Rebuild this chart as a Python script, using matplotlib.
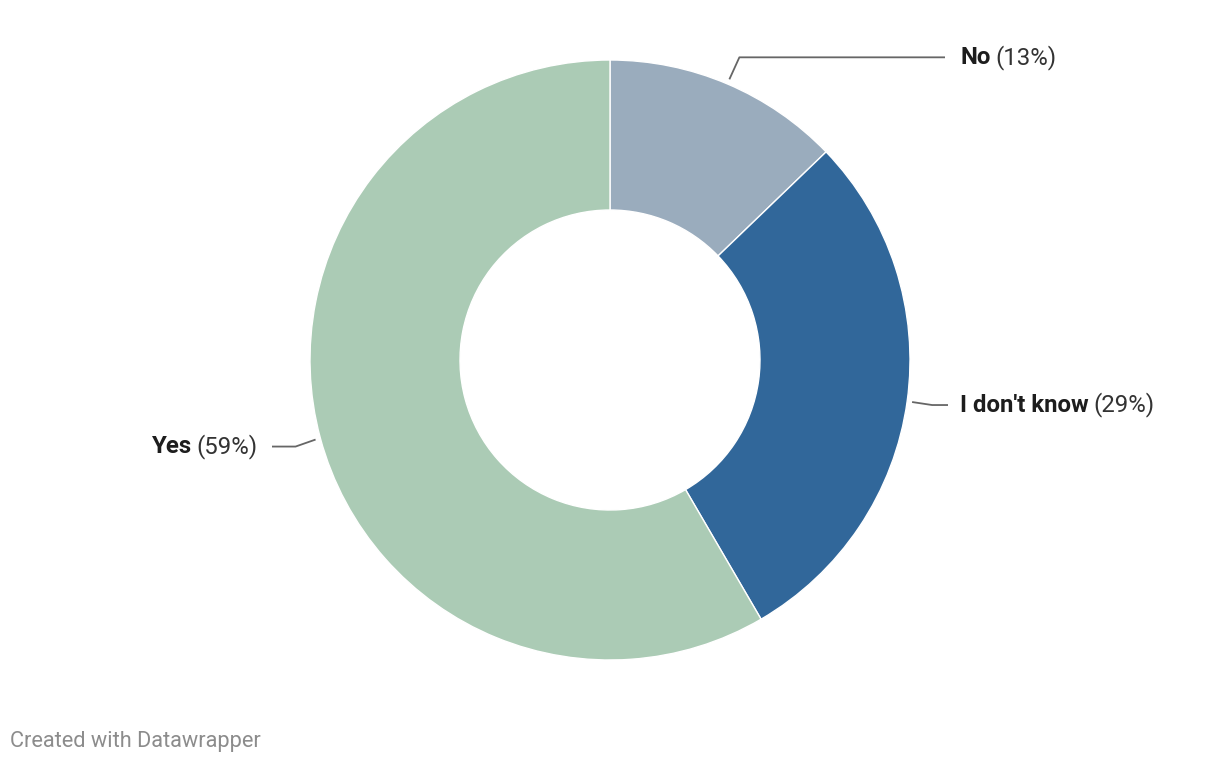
import numpy as np
import matplotlib.pyplot as plt

labels = ['No', "I don't know", 'Yes']
shares = [12.8, 28.8, 58.4]
shown = ['13%', '29%', '59%']
colors = ['#9aacbd', '#31679a', '#abcbb5']

plt.rcParams['font.family'] = ['Roboto', 'DejaVu Sans']

W, H = 1220, 766
fig = plt.figure(figsize=(W / 100, H / 100), dpi=100)
ax = fig.add_axes([0, 0, 1, 1])

cx, cy, r = 610, H - 360, 300
wedges, _ = ax.pie(shares, colors=colors, startangle=90, counterclock=False,
                   center=(cx, cy), radius=r, frame=True,
                   wedgeprops=dict(width=150, edgecolor='white', linewidth=1))
ax.set_xlim(0, W)
ax.set_ylim(0, H)
ax.set_aspect('equal')
ax.axis('off')

fs = 17.3
# leader lines: (elbow offset, end x, label x, alignment)
leaders = {
    'No': ((10, 22), 945, 960, 'left'),
    "I don't know": ((20, -3), 948, 960, 'left'),
    'Yes': ((-20, -7), 272, 258, 'right'),
}
for w, lab, pct in zip(wedges, labels, shown):
    mid = np.deg2rad((w.theta1 + w.theta2) / 2)
    px = cx + 305 * np.cos(mid)
    py = cy + 305 * np.sin(mid)
    (dx, dy), xend, xt, ha = leaders[lab]
    ex, ey = px + dx, py + dy
    ax.plot([px, ex, xend], [py, ey, ey], color='#666666', lw=1.3,
            solid_capstyle='butt')
    if ha == 'left':
        t = ax.text(xt, ey, lab, fontsize=fs, fontweight='bold', color='#1d1d1d',
                    ha='left', va='center')
        fig.canvas.draw()
        bb = t.get_window_extent()
        ax.text(bb.x1 + 5, ey, f'({pct})', fontsize=fs, color='#333333',
                ha='left', va='center')
    else:
        t = ax.text(xt, ey, f'({pct})', fontsize=fs, color='#333333',
                    ha='right', va='center')
        fig.canvas.draw()
        bb = t.get_window_extent()
        ax.text(bb.x0 - 5, ey, lab, fontsize=fs, fontweight='bold', color='#1d1d1d',
                ha='right', va='center')

ax.text(10, H - 742, 'Created with Datawrapper', fontsize=15.7, color='#8c8c8c',
        ha='left', va='center')

fig.savefig('out.png', dpi=100)
